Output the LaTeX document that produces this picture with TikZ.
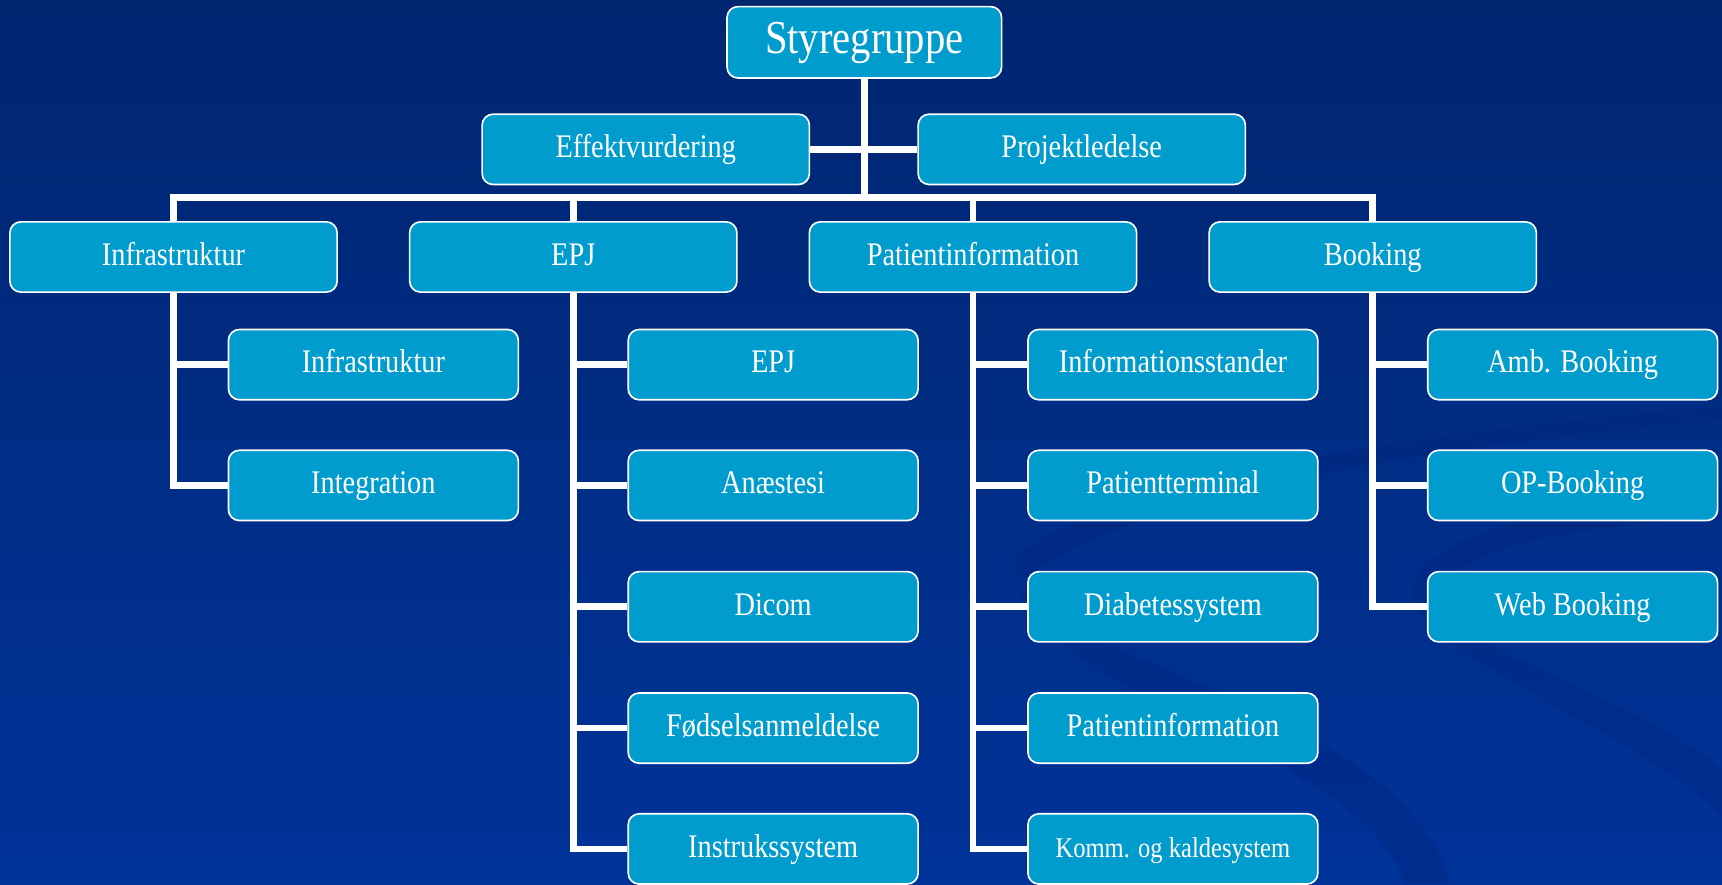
\documentclass[tikz,border=0pt]{standalone}
\usepackage{fontspec}
\setmainfont{Liberation Serif}[FakeStretch=0.86]
\definecolor{bgtop}{RGB}{0,38,112}
\definecolor{bgbottom}{RGB}{0,51,153}
\definecolor{swoosh}{RGB}{0,36,125}
\definecolor{boxblue}{RGB}{0,156,205}
\tikzset{
  box/.style={draw=white, line width=1.5pt, fill=boxblue, rounded corners=10pt,
    text=white, inner sep=0pt, minimum width=298pt, minimum height=64pt,
    text height=21pt, text depth=6pt,
    font=\fontsize{30}{35}\selectfont},
  sub/.style={box, minimum width=264pt},
  link/.style={draw=white, line width=6pt, line join=miter}
}
\newcommand{\subNode}[4]{
    \node[sub] (#1) at (#2,#3) {#4};
}
\newcommand{\hookUp}[2]{
    \draw[link] (#1.south) |- (#2.west);
}

\begin{document}
\begin{tikzpicture}[x=1pt,y=-1pt]
\useasboundingbox (0,0) rectangle (1568,805);

% Background and swoosh
\shade[top color=bgtop, bottom color=bgbottom] (0,0) rectangle (1568,805);
\fill[swoosh, opacity=.35] (922,508) .. controls (1000,450) and (1200,400) .. (1568,370)
    -- (1568,382) .. controls (1200,415) and (1000,470) .. (930,530) -- cycle;
\fill[swoosh, opacity=.4] (922,515) .. controls (930,600) and (1280,640) .. (1320,805)
    -- (1280,805) .. controls (1240,680) and (940,640) .. (922,515) -- cycle;
\fill[swoosh, opacity=.3] (1568,449) .. controls (1400,460) and (1290,490) .. (1284,541)
    .. controls (1300,600) and (1480,660) .. (1568,743) -- (1568,700)
    .. controls (1480,630) and (1320,590) .. (1310,545)
    .. controls (1320,500) and (1420,480) .. (1568,472) -- cycle;

% Top of the chart
\node[box, minimum width=250pt, minimum height=65pt, text height=30pt, text depth=9pt,
    font=\fontsize{43}{48}\selectfont] (styr) at (787,38.5) {Styregruppe};
\node[box] (effekt) at (588,136) {Effektvurdering};
\node[box] (projekt) at (985,136) {Projektledelse};
\coordinate (bus) at (787,180);

% Main branches
\node[box] (infra) at (158,234) {Infrastruktur};
\node[box] (epj) at (522,234) {EPJ};
\node[box] (patinfo) at (886,234) {Patientinformation};
\node[box] (booking) at (1250,234) {Booking};

\draw[link] (styr.south) -- (bus);
\draw[link] (effekt.east) -- (projekt.west);
\draw[link] (infra.north) -- (infra.north |- bus) -- (booking.north |- bus) -- (booking.north);
\draw[link] (epj.north) -- (epj.north |- bus);
\draw[link] (patinfo.north) -- (patinfo.north |- bus);

% Infrastruktur
\subNode{infraA}{340}{332}{Infrastruktur}
\subNode{infraB}{340}{442}{Integration}
\hookUp{infra}{infraA}
\hookUp{infra}{infraB}

% EPJ
\subNode{epjA}{704}{332}{EPJ}
\subNode{epjB}{704}{442}{Anæstesi}
\subNode{epjC}{704}{552.5}{Dicom}
\subNode{epjD}{704}{663}{Fødselsanmeldelse}
\subNode{epjE}{704}{773}{Instrukssystem}
\hookUp{epj}{epjA}
\hookUp{epj}{epjB}
\hookUp{epj}{epjC}
\hookUp{epj}{epjD}
\hookUp{epj}{epjE}

% Patientinformation
\subNode{patA}{1068}{332}{Informationsstander}
\subNode{patB}{1068}{442}{Patientterminal}
\subNode{patC}{1068}{552.5}{Diabetessystem}
\subNode{patD}{1068}{663}{Patientinformation}
\subNode{patE}{1068}{773}{\fontsize{26}{30}\selectfont Komm. og kaldesystem}
\hookUp{patinfo}{patA}
\hookUp{patinfo}{patB}
\hookUp{patinfo}{patC}
\hookUp{patinfo}{patD}
\hookUp{patinfo}{patE}

% Booking
\subNode{bookA}{1432}{332}{Amb. Booking}
\subNode{bookB}{1432}{442}{OP-Booking}
\subNode{bookC}{1432}{552.5}{Web Booking}
\hookUp{booking}{bookA}
\hookUp{booking}{bookB}
\hookUp{booking}{bookC}

\end{tikzpicture}
\end{document}
